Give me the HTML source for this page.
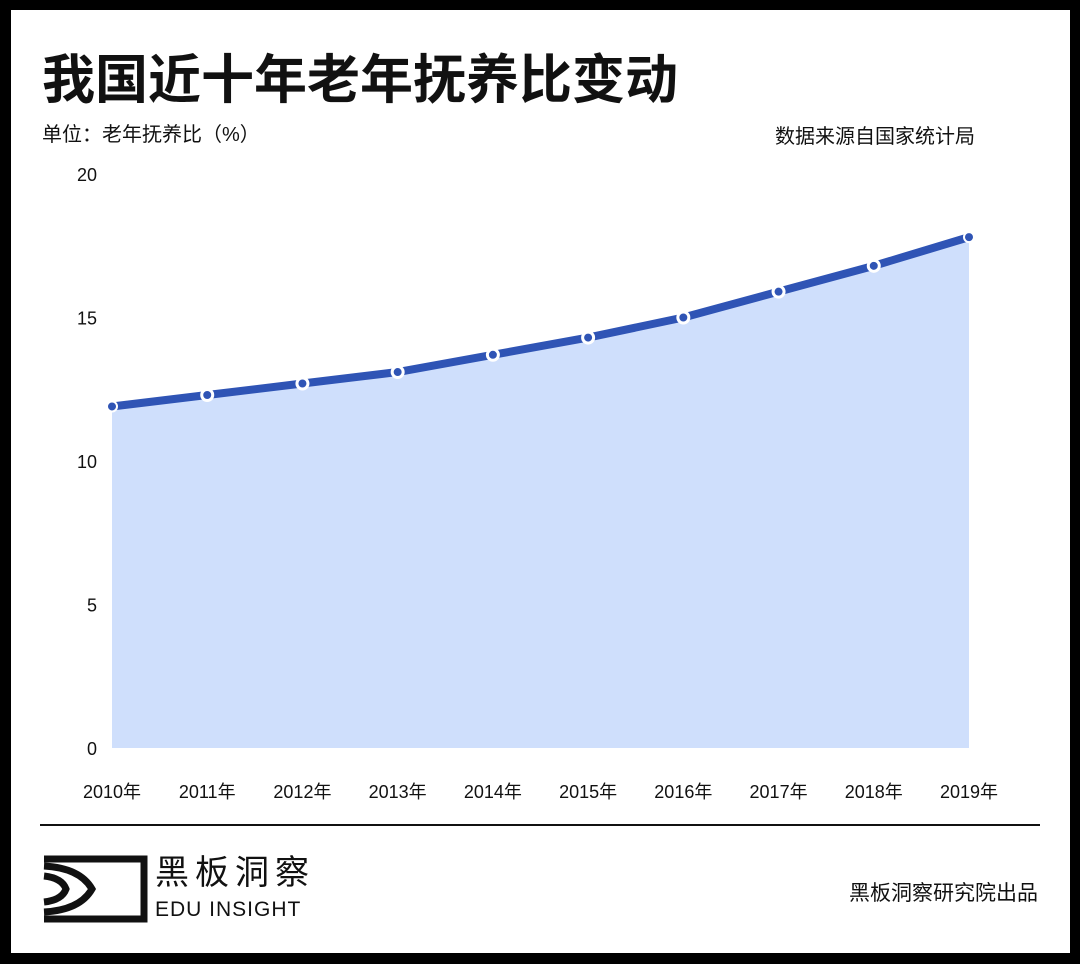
<!DOCTYPE html>
<html><head><meta charset="utf-8"><style>
body{margin:0;width:1080px;height:964px;background:#000;overflow:hidden;font-family:"Liberation Sans","Noto Sans CJK SC",sans-serif}
#card{position:absolute;left:11px;top:10px;width:1059px;height:943px;background:#fff}
.t{position:absolute;white-space:nowrap;color:#111}
</style></head><body>
<div id="card"></div>
<div class="t" style="left:42px;top:38px;font-size:53px;font-weight:bold">我国近十年老年抚养比变动</div>
<div class="t" style="left:42px;top:118px;font-size:20px">单位：老年抚养比（%）</div>
<div class="t" style="right:105px;top:120px;font-size:20px">数据来源自国家统计局</div>
<svg id="chart" width="1080" height="964" style="position:absolute;left:0;top:0"></svg>
<div style="position:absolute;left:40px;top:824px;width:1000px;height:2px;background:#111"></div>
<svg width="110" height="70" style="position:absolute;left:40px;top:854px">
<path d="M4 5 H104 V65 H4" fill="none" stroke="#111" stroke-width="7"/>
<path d="M4 12 Q40 14 52 35 Q40 56 4 58" fill="none" stroke="#111" stroke-width="7"/>
<path d="M4 22 Q22 24 26 35 Q22 46 4 48" fill="none" stroke="#111" stroke-width="7"/>
</svg>
<div class="t" style="left:155px;top:853px;font-size:34px;letter-spacing:6px;line-height:40px">黑板洞察</div>
<div class="t" style="left:155px;top:898px;font-size:21px;letter-spacing:1px;line-height:24px">EDU INSIGHT</div>
<div class="t" style="right:42px;top:877px;font-size:21px">黑板洞察研究院出品</div>
<script>
const categories=["2010年","2011年","2012年","2013年","2014年","2015年","2016年","2017年","2018年","2019年"];
const values=[11.9,12.3,12.7,13.1,13.7,14.3,15.0,15.9,16.8,17.8];
const yTicks=[0,5,10,15,20];
const NS="http://www.w3.org/2000/svg";
const svg=document.getElementById('chart');
const x0=112,x1=969,yb=748,yt=174;
const xs=i=>x0+(x1-x0)*i/(categories.length-1);
const ys=v=>yb-(yb-yt)*v/20;
function mk(t,a){const e=document.createElementNS(NS,t);for(const k in a)e.setAttribute(k,a[k]);svg.appendChild(e);return e;}
yTicks.forEach(v=>{const e=mk('text',{x:97,y:ys(v)+7,'text-anchor':'end','font-size':18,fill:'#111','font-family':'Liberation Sans,sans-serif'});e.textContent=v;

});
categories.forEach((c,i)=>{const e=mk('text',{x:xs(i),y:798,'text-anchor':'middle','font-size':18,fill:'#111','font-family':'Liberation Sans,Noto Sans CJK SC,sans-serif'});e.textContent=c;

});
let d='M'+x0+' '+yb;values.forEach((v,i)=>d+=' L'+xs(i)+' '+ys(v));d+=' L'+x1+' '+yb+' Z';
const area=mk('path',{d:d,fill:'#cfdffc'});


const line=mk('polyline',{points:values.map((v,i)=>xs(i)+','+ys(v)).join(' '),fill:'none',stroke:'#2f54b5','stroke-width':8,'stroke-linejoin':'round'});


values.forEach((v,i)=>{const c=mk('circle',{cx:xs(i),cy:ys(v),r:(i==0||i==9)?5:5.5,fill:'#2f54b5',stroke:'#fff','stroke-width':(i==0||i==9)?2:3});

});
</script>
</body></html>
